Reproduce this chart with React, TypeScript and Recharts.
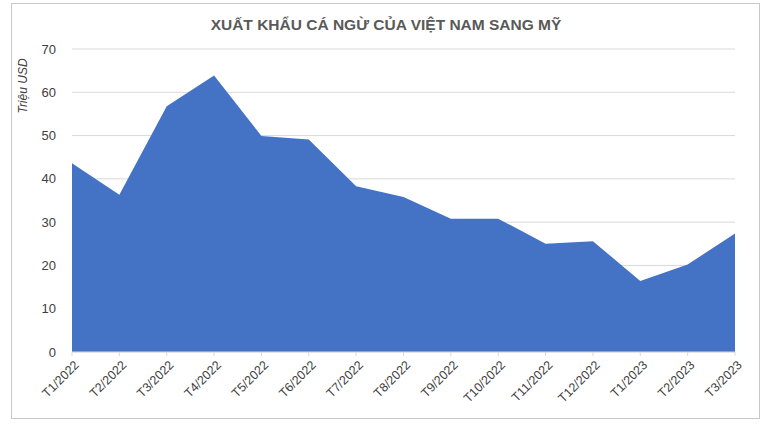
import React from "react";
import { AreaChart, Area, XAxis, YAxis, CartesianGrid } from "recharts";

const categories = [
  "T1/2022", "T2/2022", "T3/2022", "T4/2022", "T5/2022", "T6/2022", "T7/2022",
  "T8/2022", "T9/2022", "T10/2022", "T11/2022", "T12/2022", "T1/2023", "T2/2023", "T3/2023",
];
const values = [43.6, 36.3, 56.8, 63.9, 49.9, 49.1, 38.3, 35.8, 30.8, 30.8, 25.0, 25.6, 16.4, 20.2, 27.4];
const yTicks = [0, 10, 20, 30, 40, 50, 60, 70];
const title = "XUẤT KHẨU CÁ NGỪ CỦA VIỆT NAM SANG MỸ";
const yLabel = "Triệu USD";

const data = categories.map((c, i) => ({ name: c, value: values[i] }));

const XTick = (props: any) => {
  const { x, y, payload } = props;
  return (
    <g transform={`translate(${x},${y})`}>
      <text
        x={0}
        y={0}
        dx={0}
        dy={11}
        textAnchor="end"
        transform="rotate(-45)"
        fontSize={12.5}
        fill="#404040"
        fontFamily="'Liberation Sans', Arial, sans-serif"
      >
        {payload.value}
      </text>
    </g>
  );
};

export default function App() {
  return (
    <div style={{ position: "absolute", left: 0, top: 0, width: 772, height: 425, background: "#fff", fontFamily: "'Liberation Sans', Arial, sans-serif" }}>
      <div style={{ position: "absolute", left: 11, top: 3, width: 747, height: 414, border: "1px solid #c8c8c8" }} />
      <div style={{ position: "absolute", left: 0, top: 16, width: 772, textAlign: "center", fontSize: 15.5, fontWeight: "bold", color: "#595959" }}>
        {title}
      </div>
      <div
        style={{
          position: "absolute",
          left: 23,
          top: 86,
          transform: "translate(-50%,-50%) rotate(-90deg)",
          fontSize: 12,
          fontStyle: "italic",
          color: "#404040",
          whiteSpace: "nowrap",
        }}
      >
        {yLabel}
      </div>
      <AreaChart width={772} height={425} data={data} margin={{ top: 49, right: 37, bottom: 0, left: 0 }}>
        <CartesianGrid horizontal={true} vertical={false} stroke="#d9d9d9" />
        <XAxis
          dataKey="name"
          interval={0}
          height={73}
          axisLine={{ stroke: "#d9d9d9" }}
          tickLine={{ stroke: "#d9d9d9" }}
          tickSize={4}
          tick={<XTick />}
        />
        <YAxis
          width={72}
          domain={[0, 70]}
          ticks={yTicks}
          axisLine={false}
          tickLine={false}
          tickMargin={10}
          tick={{ fontSize: 13, fill: "#404040", fontFamily: "'Liberation Sans', Arial, sans-serif" }}
        />
        <Area type="linear" dataKey="value" fill="#4472C4" fillOpacity={1} stroke="none" isAnimationActive={false} />
      </AreaChart>
    </div>
  );
}
